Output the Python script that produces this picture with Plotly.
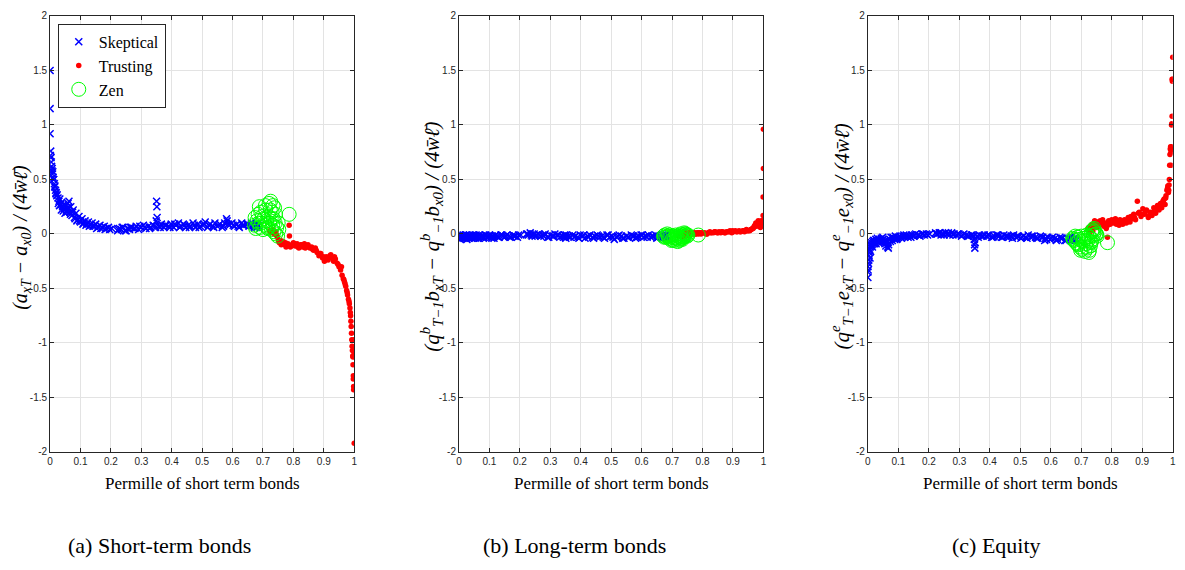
import plotly.graph_objects as go

# ---------------- data ----------------
x_ticks = [0, 0.1, 0.2, 0.3, 0.4, 0.5, 0.6, 0.7, 0.8, 0.9, 1]
x_ticklabels = ["0", "0.1", "0.2", "0.3", "0.4", "0.5", "0.6", "0.7", "0.8", "0.9", "1"]
y_ticks = [-2, -1.5, -1, -0.5, 0, 0.5, 1, 1.5, 2]
y_ticklabels = ["-2", "-1.5", "-1", "-0.5", "0", "0.5", "1", "1.5", "2"]

series_names = ["Skeptical", "Trusting", "Zen"]

sk_x = [0.000, 0.000, 0.000, 0.002, 0.003, 0.004, 0.005, 0.006, 0.008, 0.010,
        0.012, 0.014, 0.016, 0.018, 0.020, 0.023, 0.026, 0.029, 0.032, 0.035,
        0.038, 0.041, 0.044, 0.047, 0.050, 0.053, 0.056, 0.059, 0.062, 0.065,
        0.068, 0.072, 0.076, 0.080, 0.085, 0.090, 0.095, 0.100, 0.105, 0.110,
        0.115, 0.120, 0.126, 0.132, 0.138, 0.144, 0.150, 0.157, 0.164, 0.171,
        0.178, 0.185, 0.192, 0.203, 0.222, 0.228, 0.234, 0.240, 0.247, 0.254,
        0.261, 0.268, 0.275, 0.283, 0.291, 0.299, 0.307, 0.315, 0.323, 0.331,
        0.339, 0.347, 0.349, 0.350, 0.351, 0.352, 0.358, 0.366, 0.374, 0.382,
        0.390, 0.398, 0.406, 0.414, 0.422, 0.430, 0.438, 0.446, 0.454, 0.462,
        0.470, 0.478, 0.486, 0.494, 0.502, 0.510, 0.518, 0.526, 0.534, 0.542,
        0.550, 0.558, 0.566, 0.574, 0.580, 0.582, 0.590, 0.598, 0.606, 0.614,
        0.622, 0.630, 0.638, 0.646, 0.654, 0.662, 0.668, 0.673, 0.678, 0.682,
        0.001, 0.007, 0.009, 0.011, 0.015, 0.019, 0.022, 0.027, 0.031, 0.037,
        0.043, 0.049, 0.055, 0.061, 0.067, 0.074, 0.082, 0.088, 0.097, 0.108,
        0.118, 0.129, 0.141, 0.153, 0.167, 0.181, 0.196, 0.225, 0.237, 0.250,
        0.264, 0.279, 0.295, 0.311, 0.327, 0.343, 0.362, 0.378, 0.394, 0.410,
        0.426, 0.442, 0.458, 0.474, 0.490, 0.506, 0.522, 0.538, 0.554, 0.570,
        0.586, 0.602, 0.618, 0.634, 0.650, 0.664, 0.671, 0.676, 0.680, 0.684]

sk_short = [1.50, 1.15, 0.92, 0.76, 0.70, 0.66, 0.62, 0.58, 0.55, 0.52,
            0.50, 0.46, 0.44, 0.40, 0.38, 0.36, 0.33, 0.30, 0.32, 0.27,
            0.29, 0.25, 0.27, 0.23, 0.26, 0.21, 0.24, 0.28, 0.30, 0.20,
            0.25, 0.17, 0.22, 0.15, 0.19, 0.13, 0.16, 0.11, 0.14, 0.10,
            0.12, 0.09, 0.11, 0.08, 0.10, 0.07, 0.09, 0.06, 0.08, 0.06,
            0.07, 0.05, 0.06, 0.05, 0.03, 0.05, 0.04, 0.06, 0.03, 0.05,
            0.04, 0.06, 0.05, 0.07, 0.04, 0.06, 0.08, 0.05, 0.07, 0.06,
            0.08, 0.06, 0.12, 0.30, 0.25, 0.15, 0.07, 0.09, 0.06, 0.08,
            0.07, 0.09, 0.06, 0.08, 0.10, 0.07, 0.09, 0.06, 0.08, 0.07,
            0.10, 0.06, 0.09, 0.07, 0.08, 0.11, 0.06, 0.09, 0.07, 0.10,
            0.07, 0.09, 0.06, 0.10, 0.14, 0.12, 0.08, 0.10, 0.07, 0.09,
            0.06, 0.10, 0.08, 0.09, 0.07, 0.10, 0.08, 0.06, 0.09, 0.07,
            0.72, 0.60, 0.57, 0.50, 0.43, 0.37, 0.35, 0.28, 0.26, 0.22,
            0.21, 0.19, 0.20, 0.24, 0.18, 0.20, 0.14, 0.12, 0.12, 0.09,
            0.08, 0.07, 0.07, 0.05, 0.05, 0.04, 0.04, 0.04, 0.06, 0.03,
            0.06, 0.05, 0.07, 0.06, 0.05, 0.07, 0.06, 0.08, 0.06, 0.09,
            0.06, 0.08, 0.06, 0.08, 0.06, 0.09, 0.08, 0.06, 0.08, 0.07,
            0.09, 0.08, 0.07, 0.08, 0.09, 0.08, 0.07, 0.09, 0.06, 0.08]

sk_long = [-0.03, -0.02, -0.04, -0.01, -0.03, -0.05, -0.02, -0.01, -0.04, -0.02,
           -0.03, -0.01, -0.04, -0.02, -0.03, -0.01, -0.05, -0.02, -0.03, -0.01,
           -0.02, -0.04, -0.01, -0.03, -0.02, -0.04, -0.01, -0.03, -0.02, -0.04,
           -0.01, -0.03, -0.02, -0.04, -0.01, -0.03, -0.02, -0.01, -0.03, -0.02,
           -0.04, -0.01, -0.02, -0.03, -0.01, -0.02, -0.03, -0.01, -0.02, -0.03,
           -0.01, -0.02, -0.03, -0.01, 0.00, -0.01, 0.01, -0.02, 0.00, -0.01,
           0.00, -0.02, -0.01, 0.00, -0.03, -0.01, -0.02, 0.00, -0.01, -0.03,
           -0.02, -0.01, -0.03, -0.02, -0.04, -0.01, -0.02, -0.03, -0.01, -0.02,
           -0.03, -0.01, -0.02, -0.04, -0.02, -0.01, -0.03, -0.02, -0.01, -0.03,
           -0.02, -0.04, -0.01, -0.03, -0.02, -0.05, -0.03, -0.01, -0.02, -0.04,
           -0.02, -0.03, -0.01, -0.02, -0.04, -0.03, -0.02, -0.01, -0.03, -0.02,
           -0.01, -0.03, -0.02, -0.01, -0.03, -0.02, -0.01, -0.03, -0.02, -0.01,
           -0.01, -0.04, -0.02, -0.03, -0.02, -0.04, -0.02, -0.03, -0.04, -0.02,
           -0.03, -0.01, -0.03, -0.02, -0.04, -0.02, -0.03, -0.01, -0.03, -0.04,
           -0.02, -0.03, -0.01, -0.02, -0.03, -0.02, -0.01, 0.00, -0.01, -0.02,
           -0.01, -0.02, -0.03, -0.02, -0.01, -0.03, -0.02, -0.03, -0.04, -0.01,
           -0.03, -0.04, -0.02, -0.03, -0.01, -0.03, -0.02, -0.04, -0.03, -0.02,
           -0.03, -0.01, -0.03, -0.02, -0.04, -0.03, -0.02, -0.01, -0.03, -0.02]

sk_equity = [-0.40, -0.35, -0.30, -0.27, -0.24, -0.20, -0.17, -0.14, -0.12, -0.10,
             -0.08, -0.10, -0.07, -0.09, -0.06, -0.08, -0.05, -0.07, -0.06, -0.08,
             -0.05, -0.07, -0.04, -0.06, -0.05, -0.07, -0.09, -0.11, -0.06, -0.12,
             -0.10, -0.05, -0.03, -0.06, -0.04, -0.02, -0.05, -0.03, -0.02, -0.04,
             -0.02, -0.03, -0.01, -0.03, -0.02, -0.01, -0.02, 0.00, -0.01, -0.02,
             0.00, -0.01, 0.00, 0.00, 0.01, 0.00, 0.01, -0.01, 0.00, 0.01,
             0.00, -0.01, 0.01, 0.00, -0.01, 0.00, -0.02, 0.00, -0.01, -0.02,
             -0.01, -0.02, -0.05, -0.10, -0.13, -0.08, -0.02, -0.01, -0.02, -0.01,
             -0.02, -0.01, -0.03, -0.02, -0.01, -0.02, -0.03, -0.01, -0.02, -0.03,
             -0.02, -0.01, -0.03, -0.02, -0.04, -0.02, -0.03, -0.01, -0.03, -0.02,
             -0.03, -0.04, -0.02, -0.03, -0.06, -0.04, -0.03, -0.05, -0.03, -0.04,
             -0.05, -0.03, -0.04, -0.06, -0.04, -0.05, -0.03, -0.05, -0.04, -0.06,
             -0.33, -0.22, -0.16, -0.11, -0.12, -0.06, -0.09, -0.09, -0.04, -0.06,
             -0.08, -0.03, -0.06, -0.08, -0.13, -0.07, -0.03, -0.05, -0.04, -0.03,
             -0.01, -0.02, -0.03, -0.01, -0.01, 0.00, -0.01, 0.00, 0.01, -0.01,
             0.01, -0.01, 0.00, -0.01, -0.02, -0.01, -0.03, -0.02, -0.01, -0.03,
             -0.01, -0.03, -0.02, -0.04, -0.02, -0.03, -0.04, -0.02, -0.04, -0.03,
             -0.05, -0.04, -0.06, -0.04, -0.06, -0.04, -0.06, -0.05, -0.03, -0.05]

tr_x = [0.722, 0.728, 0.733, 0.738, 0.742, 0.746, 0.750, 0.754, 0.758, 0.762,
        0.766, 0.770, 0.774, 0.778, 0.782, 0.786, 0.787, 0.790, 0.795, 0.800,
        0.806, 0.812, 0.818, 0.824, 0.830, 0.836, 0.842, 0.848, 0.854, 0.860,
        0.866, 0.872, 0.878, 0.884, 0.890, 0.896, 0.902, 0.908, 0.914, 0.920,
        0.926, 0.932, 0.938, 0.944, 0.950, 0.955, 0.960, 0.964, 0.968, 0.972,
        0.975, 0.978, 0.981, 0.984, 0.986, 0.988, 0.990, 0.991, 0.992, 0.993,
        0.994, 0.995, 0.996, 0.997, 0.998, 0.998, 0.999, 0.999, 1.000, 1.000,
        0.725, 0.735, 0.744, 0.752, 0.760, 0.768, 0.776, 0.792, 0.803, 0.815,
        0.827, 0.839, 0.851, 0.863, 0.875, 0.887, 0.899, 0.911, 0.923, 0.935,
        0.947, 0.958, 0.966, 0.970, 0.977, 0.983, 0.987, 0.989, 0.996, 0.997]

tr_short = [0.03, 0.01, 0.04, 0.00, 0.02, -0.02, -0.05, -0.08, -0.06, -0.09,
            -0.07, -0.10, -0.08, -0.11, -0.09, 0.08, -0.02, -0.12, -0.10, -0.08,
            -0.11, -0.09, -0.13, -0.10, -0.12, -0.09, -0.11, -0.10, -0.13, -0.12,
            -0.15, -0.13, -0.17, -0.20, -0.18, -0.22, -0.25, -0.21, -0.24, -0.20,
            -0.22, -0.25, -0.23, -0.27, -0.30, -0.33, -0.38, -0.41, -0.44, -0.48,
            -0.52, -0.56, -0.60, -0.64, -0.68, -0.75, -0.85, -0.91, -0.97, -1.03,
            -1.07, -1.12, -1.20, -1.33, -1.40, -1.43, -1.05, -0.97, -1.92, -1.10,
            0.02, 0.03, -0.01, -0.07, -0.10, -0.08, -0.12, -0.11, -0.09, -0.12,
            -0.10, -0.13, -0.12, -0.14, -0.15, -0.18, -0.21, -0.23, -0.19, -0.21,
            -0.28, -0.30, -0.42, -0.46, -0.54, -0.62, -0.72, -0.80, -1.13, -1.30]

tr_long = [-0.02, 0.00, -0.03, -0.01, 0.01, -0.02, 0.00, 0.01, -0.01, 0.00,
           0.01, 0.00, 0.01, 0.00, 0.01, 0.00, 0.01, 0.01, 0.00, 0.01,
           0.01, 0.00, 0.01, 0.02, 0.01, 0.01, 0.02, 0.01, 0.02, 0.01,
           0.02, 0.01, 0.02, 0.02, 0.03, 0.01, 0.02, 0.03, 0.02, 0.03,
           0.02, 0.03, 0.02, 0.04, 0.03, 0.03, 0.04, 0.05, 0.06, 0.08,
           0.10, 0.07, 0.09, 0.11, 0.08, 0.10, 0.06, 0.11, 0.09, 0.12,
           0.08, 0.10, 0.11, 0.09, 0.12, 0.10, 0.17, 0.34, 0.60, 0.96,
           0.00, -0.02, 0.01, 0.00, 0.01, 0.01, 0.00, 0.01, 0.01, 0.00,
           0.01, 0.02, 0.01, 0.02, 0.01, 0.02, 0.03, 0.02, 0.02, 0.03,
           0.03, 0.04, 0.05, 0.07, 0.09, 0.12, 0.10, 0.07, 0.10, 0.08]

tr_equity = [0.05, 0.02, 0.07, 0.03, 0.08, 0.10, 0.06, 0.11, 0.08, 0.12,
             0.09, 0.13, 0.07, 0.10, 0.05, -0.03, 0.08, 0.12, 0.09, 0.13,
             0.10, 0.14, 0.11, 0.08, 0.12, 0.09, 0.13, 0.10, 0.15, 0.11,
             0.14, 0.18, 0.13, 0.30, 0.20, 0.16, 0.23, 0.18, 0.22, 0.15,
             0.20, 0.17, 0.24, 0.19, 0.26, 0.22, 0.28, 0.24, 0.30, 0.32,
             0.27, 0.35, 0.40, 0.44, 0.38, 0.45, 0.63, 0.73, 0.78, 0.80,
             0.75, 0.63, 1.00, 1.01, 1.08, 1.42, 1.40, 0.78, 1.62, 1.42,
             0.06, 0.09, 0.12, 0.09, 0.10, 0.11, 0.08, 0.10, 0.12, 0.09,
             0.13, 0.10, 0.12, 0.16, 0.15, 0.19, 0.18, 0.21, 0.17, 0.20,
             0.23, 0.26, 0.27, 0.31, 0.33, 0.42, 0.40, 0.50, 0.80, 0.77]

zen_x = [0.672, 0.676, 0.680, 0.684, 0.688, 0.690, 0.693, 0.696, 0.700, 0.703,
         0.706, 0.709, 0.712, 0.715, 0.718, 0.720, 0.722, 0.725, 0.728, 0.730,
         0.732, 0.734, 0.736, 0.738, 0.740, 0.742, 0.745, 0.748, 0.752, 0.786,
         0.674, 0.686, 0.698, 0.708, 0.716, 0.724, 0.727, 0.733, 0.741, 0.750]

zen_short = [0.08, 0.05, 0.12, 0.18, 0.25, 0.06, 0.20, 0.10, 0.04, 0.14,
             0.08, 0.22, 0.12, 0.06, 0.16, 0.28, 0.10, 0.30, 0.04, 0.20,
             0.08, 0.14, 0.02, 0.24, 0.10, 0.00, 0.06, -0.02, 0.04, 0.18,
             0.15, 0.10, 0.16, 0.26, 0.05, 0.22, 0.14, 0.26, 0.18, 0.10]

zen_long = [-0.02, -0.01, -0.03, 0.00, -0.02, -0.04, -0.01, -0.03, -0.05, -0.02,
            -0.06, -0.03, -0.01, -0.04, -0.07, -0.02, -0.05, -0.03, 0.00, -0.04,
            -0.02, -0.05, -0.01, -0.03, 0.01, -0.02, 0.00, -0.01, -0.01, -0.01,
            -0.03, -0.02, -0.06, -0.04, -0.02, -0.06, -0.03, -0.04, 0.00, -0.02]

zen_equity = [-0.04, -0.06, -0.02, -0.08, -0.03, -0.10, -0.05, -0.12, -0.02, -0.14,
              -0.07, -0.04, -0.16, -0.09, -0.01, -0.13, -0.06, -0.17, -0.03, -0.11,
              -0.08, 0.02, -0.05, 0.04, -0.01, 0.05, 0.02, 0.00, -0.02, -0.08,
              -0.05, -0.09, -0.15, -0.06, -0.12, -0.02, -0.15, -0.07, 0.03, 0.00]

y_titles = [
    "<i>(a<sub>xT</sub> − a<sub>x0</sub>) / (4w̄ℓ̄)</i>",
    "<i>(q<sup>b</sup><sub>T−1</sub>b<sub>xT</sub> − q<sup>b</sup><sub>−1</sub>b<sub>x0</sub>) / (4w̄ℓ̄)</i>",
    "<i>(q<sup>e</sup><sub>T−1</sub>e<sub>xT</sub> − q<sup>e</sup><sub>−1</sub>e<sub>x0</sub>) / (4w̄ℓ̄)</i>",
]
y_title_sizes = [20, 21, 21]
x_title = "Permille of short term bonds"
captions = ["(a) Short-term bonds", "(b) Long-term bonds", "(c) Equity"]

panels = [
    (sk_short, tr_short, zen_short),
    (sk_long, tr_long, zen_long),
    (sk_equity, tr_equity, zen_equity),
]

# ---------------- layout geometry (reference pixel positions) ----------------
OFF = 8                      # page body margin
W, H = 1185 - 2 * OFF, 570 - 2 * OFF


def px(xp):
    return (xp - OFF) / W


def py(yp):
    return 1 - (yp - OFF) / H


x_domains = [(47.3, 353.0), (458.3, 764.3), (869.3, 1175.7)]
y_top, y_bot = 11.0, 455.0
ytitle_x_px = [19, 431, 843]
caption_x_px = [157, 574, 999]

SERIF = "Liberation Serif, DejaVu Serif, serif"
SANS = "Liberation Sans, Arial, sans-serif"
AX = "#262626"

fig = go.Figure()

for i, (ys, yt, yz) in enumerate(panels):
    sfx = "" if i == 0 else str(i + 1)
    xa, ya = "x" + sfx, "y" + sfx
    show = i == 0
    fig.add_trace(go.Scatter(
        x=sk_x, y=ys, mode="markers", name=series_names[0], showlegend=show,
        xaxis=xa, yaxis=ya,
        marker=dict(symbol="x-thin-open", size=7, color="#0000ff",
                    line=dict(width=1.5, color="#0000ff"))))
    fig.add_trace(go.Scatter(
        x=tr_x, y=yt, mode="markers", name=series_names[1], showlegend=show,
        xaxis=xa, yaxis=ya,
        marker=dict(symbol="circle", size=5.5, color="#ff0000",
                    line=dict(width=0))))
    fig.add_trace(go.Scatter(
        x=zen_x, y=yz, mode="markers", name=series_names[2], showlegend=show,
        xaxis=xa, yaxis=ya,
        marker=dict(symbol="circle-open", size=14, color="#00ff00",
                    line=dict(width=1, color="#00ff00"))))

    d0, d1 = x_domains[i]
    common = dict(showgrid=True, gridcolor="#e3e3e3", gridwidth=1,
                  ticks="inside", ticklen=4, tickcolor=AX, tickwidth=1,
                  showline=True, mirror="ticks", linecolor=AX, linewidth=1,
                  zeroline=False, ticklabeloverflow="allow",
                  tickfont=dict(family=SANS, size=10, color=AX))
    fig.layout["xaxis" + sfx] = dict(
        domain=[px(d0), px(d1)], range=[0, 1], anchor=ya,
        tickvals=x_ticks, ticktext=x_ticklabels, **common)
    fig.layout["yaxis" + sfx] = dict(
        domain=[py(y_bot), py(y_top)], range=[-2, 2],
        anchor=xa, tickvals=y_ticks, ticktext=y_ticklabels, **common)

    fig.add_annotation(xref="paper", yref="paper", x=px(ytitle_x_px[i]),
                       y=py(236), text=y_titles[i], textangle=-90,
                       showarrow=False,
                       font=dict(family=SERIF, size=y_title_sizes[i], color="black"),
                       xanchor="center", yanchor="middle")
    fig.add_annotation(xref="paper", yref="paper", x=px((d0 + d1) / 2),
                       y=py(487), text=x_title, showarrow=False,
                       font=dict(family=SERIF, size=17, color="black"),
                       xanchor="center", yanchor="middle")
    fig.add_annotation(xref="paper", yref="paper", x=px(caption_x_px[i]),
                       y=py(550), text=captions[i], showarrow=False,
                       font=dict(family=SERIF, size=22, color="black"),
                       xanchor="center", yanchor="middle")

fig.update_layout(
    width=W, height=H, margin=dict(l=0, r=0, t=0, b=0),
    paper_bgcolor="white", plot_bgcolor="white",
    legend=dict(x=px(55), y=py(19), xanchor="left", yanchor="top",
                bgcolor="white", bordercolor="#262626", borderwidth=1,
                font=dict(family=SERIF, size=16, color="black"),
                itemsizing="trace", itemwidth=30, tracegroupgap=0),
)

fig.write_html("out.html")
